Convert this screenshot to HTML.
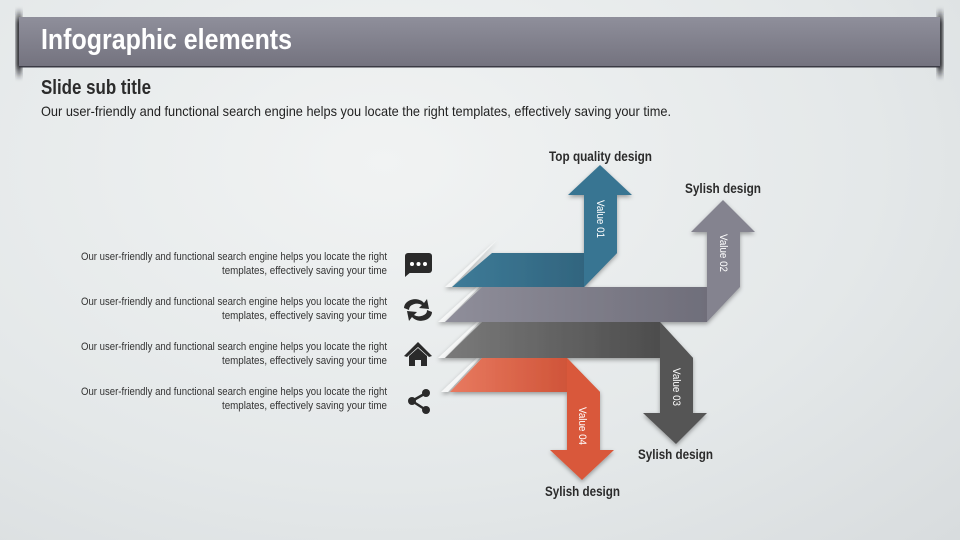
<!DOCTYPE html>
<html><head><meta charset="utf-8"><style>
body{margin:0;width:960px;height:540px;overflow:hidden;background:radial-gradient(ellipse at 40% 30%,#f1f3f3 0%,#e4e8e9 60%,#d8dcde 100%);font-family:"Liberation Sans Narrow","Liberation Sans",sans-serif;}
svg{position:absolute;left:0;top:0}
</style></head><body>
<svg width="960" height="540" viewBox="0 0 960 540" xmlns="http://www.w3.org/2000/svg">
<defs>
<linearGradient id="hdr" x1="0" y1="0" x2="0" y2="1"><stop offset="0" stop-color="#8f8f9b"/><stop offset="1" stop-color="#74737f"/></linearGradient>
<linearGradient id="endL" x1="0" y1="0" x2="0" y2="1"><stop offset="0" stop-color="#1e1e24" stop-opacity="0"/><stop offset="0.2" stop-color="#1e1e24" stop-opacity="0.9"/><stop offset="0.8" stop-color="#1e1e24" stop-opacity="0.9"/><stop offset="1" stop-color="#1e1e24" stop-opacity="0"/></linearGradient>
<linearGradient id="bl" x1="0" x2="1"><stop offset="0" stop-color="#3d7b98"/><stop offset="1" stop-color="#2f5f78"/></linearGradient>
<linearGradient id="gr" x1="0" x2="1"><stop offset="0" stop-color="#8f8e9a"/><stop offset="1" stop-color="#6f6e7a"/></linearGradient>
<linearGradient id="dk" x1="0" x2="1"><stop offset="0" stop-color="#7a7a7a"/><stop offset="1" stop-color="#464646"/></linearGradient>
<linearGradient id="or" x1="0" x2="1"><stop offset="0" stop-color="#e87a60"/><stop offset="1" stop-color="#c94a2e"/></linearGradient>
<filter id="sh" x="-20%" y="-20%" width="140%" height="140%"><feDropShadow dx="0" dy="2" stdDeviation="2" flood-opacity="0.35"/></filter>
<filter id="bl3"><feGaussianBlur stdDeviation="1.5"/></filter>
</defs>
<!-- header -->
<rect x="16" y="8" width="6" height="72" fill="url(#endL)" filter="url(#bl3)"/>
<rect x="937" y="8" width="6" height="72" fill="url(#endL)" filter="url(#bl3)"/>
<rect x="19" y="17" width="921" height="49" fill="url(#hdr)"/>
<rect x="19" y="66" width="921" height="1.5" fill="#3a3a44"/>
<text x="41" y="49" font-size="29" font-weight="bold" fill="#fff" textLength="251" lengthAdjust="spacingAndGlyphs">Infographic elements</text>
<text x="41" y="94" font-size="20" font-weight="bold" fill="#2b2b2b" textLength="110" lengthAdjust="spacingAndGlyphs">Slide sub title</text>
<text x="41" y="116" font-size="14" fill="#222" textLength="630" lengthAdjust="spacingAndGlyphs">Our user-friendly and functional search engine helps you locate the right templates, effectively saving your time.</text>

<g fill="#f6f7f7" filter="url(#sh)">
<polygon points="497,240 452,287 445,287 490,246"/>
<polygon points="488,278 445,322 438,322 480,284"/>
<polygon points="488,313 445,358 438,358 480,319"/>
<polygon points="488,349 448,392 441,392 480,355"/>
</g>
<g filter="url(#sh)">
<polygon points="482,358 567,358 600,392 450,392" fill="url(#or)"/>
<polygon points="567,358 600,392 600,450 614,450 582,480 550,450 567,450" fill="#d9583a"/>
<polygon points="482,322 660,322 693,358 445,358" fill="url(#dk)"/>
<polygon points="660,322 693,358 693,413 707,413 676,444 643,413 660,413" fill="#555"/>
<polygon points="482,287 707,287 707,322 445,322" fill="url(#gr)"/>
<polygon points="707,232 691,232 723,200 755,232 740,232 740,287 707,322" fill="#84838f"/>
<polygon points="492,253 617,253 584,287 452,287" fill="url(#bl)"/>
<polygon points="584,195 568,195 600,165 632,195 617,195 617,253 584,287" fill="#377592"/>
</g>
<g font-size="11" fill="#fff">
<text transform="translate(597,200) rotate(90)" textLength="38" lengthAdjust="spacingAndGlyphs">Value 01</text>
<text transform="translate(720,234) rotate(90)" textLength="38" lengthAdjust="spacingAndGlyphs">Value 02</text>
<text transform="translate(673,368) rotate(90)" textLength="38" lengthAdjust="spacingAndGlyphs">Value 03</text>
<text transform="translate(579,407) rotate(90)" textLength="38" lengthAdjust="spacingAndGlyphs">Value 04</text>
</g>
<g font-size="14" font-weight="bold" fill="#2b2b2b">
<text x="549" y="161" textLength="103" lengthAdjust="spacingAndGlyphs">Top quality design</text>
<text x="685" y="193" textLength="76" lengthAdjust="spacingAndGlyphs">Sylish design</text>
<text x="638" y="459" textLength="75" lengthAdjust="spacingAndGlyphs">Sylish design</text>
<text x="545" y="496" textLength="75" lengthAdjust="spacingAndGlyphs">Sylish design</text>
</g>
<g font-size="11" fill="#333" text-anchor="end">
<text x="387" y="260" textLength="306" lengthAdjust="spacingAndGlyphs">Our user-friendly and functional  search engine helps you locate the right</text>
<text x="387" y="274" textLength="165" lengthAdjust="spacingAndGlyphs">templates,  effectively saving your time</text>
<text x="387" y="305" textLength="306" lengthAdjust="spacingAndGlyphs">Our user-friendly and functional  search engine helps you locate the right</text>
<text x="387" y="319" textLength="165" lengthAdjust="spacingAndGlyphs">templates,  effectively saving your time</text>
<text x="387" y="350" textLength="306" lengthAdjust="spacingAndGlyphs">Our user-friendly and functional  search engine helps you locate the right</text>
<text x="387" y="364" textLength="165" lengthAdjust="spacingAndGlyphs">templates,  effectively saving your time</text>
<text x="387" y="395" textLength="306" lengthAdjust="spacingAndGlyphs">Our user-friendly and functional  search engine helps you locate the right</text>
<text x="387" y="409" textLength="165" lengthAdjust="spacingAndGlyphs">templates,  effectively saving your time</text>
</g>
<g fill="#2a2a2a">
<rect x="405" y="253" width="27" height="20" rx="3"/><polygon points="405,270 405,277 412,271"/>
<circle cx="412" cy="264" r="2" fill="#fff"/><circle cx="418.5" cy="264" r="2" fill="#fff"/><circle cx="425" cy="264" r="2" fill="#fff"/>
<path d="M404,308 A11,9 0 0 1 424,303 L427,299 L429,309 L419,308 L422,305 A8,6 0 0 0 409,310 Z"/>
<path d="M432,312 A11,9 0 0 1 412,317 L409,321 L407,311 L417,312 L414,315 A8,6 0 0 0 427,310 Z"/>
<polygon points="418,342 404,356 407,357 418,347 429,357 432,356"/>
<polygon points="409,356 418,348 427,356 427,366 421,366 421,360 415,360 415,366 409,366"/>
<circle cx="426" cy="393" r="4"/><circle cx="412" cy="401" r="4"/><circle cx="426" cy="410" r="4"/>
<line x1="426" y1="393" x2="412" y2="401" stroke="#2a2a2a" stroke-width="2.5"/>
<line x1="426" y1="410" x2="412" y2="401" stroke="#2a2a2a" stroke-width="2.5"/>
</g>
</svg>
</body></html>
